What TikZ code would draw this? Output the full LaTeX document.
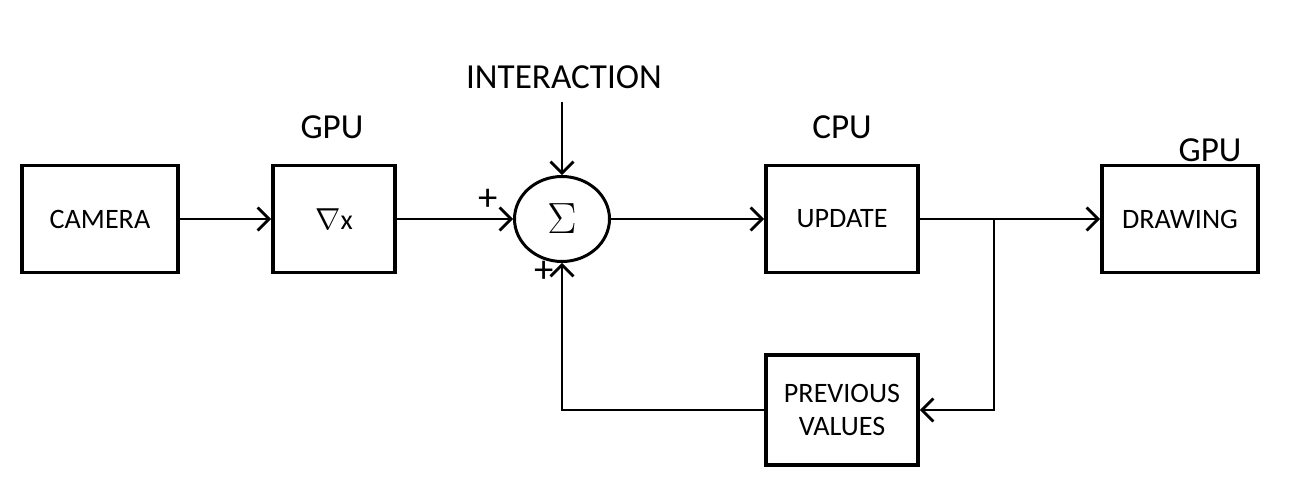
\documentclass[tikz,border=0pt]{standalone}
\usepackage{fontspec}
\setmainfont{Carlito}
\usetikzlibrary{arrows.meta,shapes.geometric}

\tikzset{
  block/.style={draw, line width=2.2pt, minimum width=3.12cm, minimum height=2.14cm, inner sep=0pt, font=\fontsize{16}{19}\selectfont, align=center},
  proc/.style={font=\fontsize{20}{22}\selectfont},
  sumnode/.style={draw, ellipse, line width=1.7pt, minimum width=1.9cm, minimum height=1.7cm, inner sep=0pt, font=\fontsize{26}{28}\selectfont},
  link/.style={line width=1.2pt, -{Straight Barb[length=2.3mm, width=4.6mm, line width=1.6pt]}},
  sign/.style={font=\fontsize{22}{24}\selectfont, inner sep=0pt}
}

\begin{document}
\begin{tikzpicture}[x=0.02cm, y=-0.02cm]
			%%%%% START %%%%%
			\useasboundingbox (0, 0) rectangle (1311, 492);
			
			\node[block] (camera) at (100, 219) {CAMERA};
			\node[block, minimum width=2.44cm] (grad) at (334, 219) {$\nabla$x};
			\node[sumnode] (sum) at (562, 219) {$\Sigma$};
			\node[block, minimum width=3.04cm] (update) at (842, 219) {UPDATE};
			\node[block] (drawing) at (1180, 219) {DRAWING};
			\node[block, minimum width=3.04cm, minimum height=2.2cm] (prev) at (842, 410) {PREVIOUS\\VALUES};
			
			\node[proc] (gpuA) at (332, 127) {GPU};
			\node[proc] (cpu) at (842, 127) {CPU};
			\node[proc] (gpuB) at (1210, 150) {GPU};
			\node[proc] (inter) at (564, 77) {INTERACTION};
			
			\node[sign] (plusA) at (488, 200) {+};
			\node[sign] (plusB) at (544, 272) {+};
			
			\coordinate (top) at (562, 102);
			\coordinate (split) at (994, 219);
			\coordinate (corner) at (994, 410);
			
			\draw[link] (camera.east) -- (grad.west);
			\draw[link] (grad.east) -- (sum.west);
			\draw[link] (top) -- (sum.north);
			\draw[link] (sum.east) -- (update.west);
			\draw[link] (update.east) -- (drawing.west);
			\draw[link] (split) -- (corner) -- (prev.east |- corner);
			\draw[link] (prev.west) -- (sum.south |- prev.west) -- (sum.south);
			%%%%% END %%%%%
		\end{tikzpicture}
\end{document}
